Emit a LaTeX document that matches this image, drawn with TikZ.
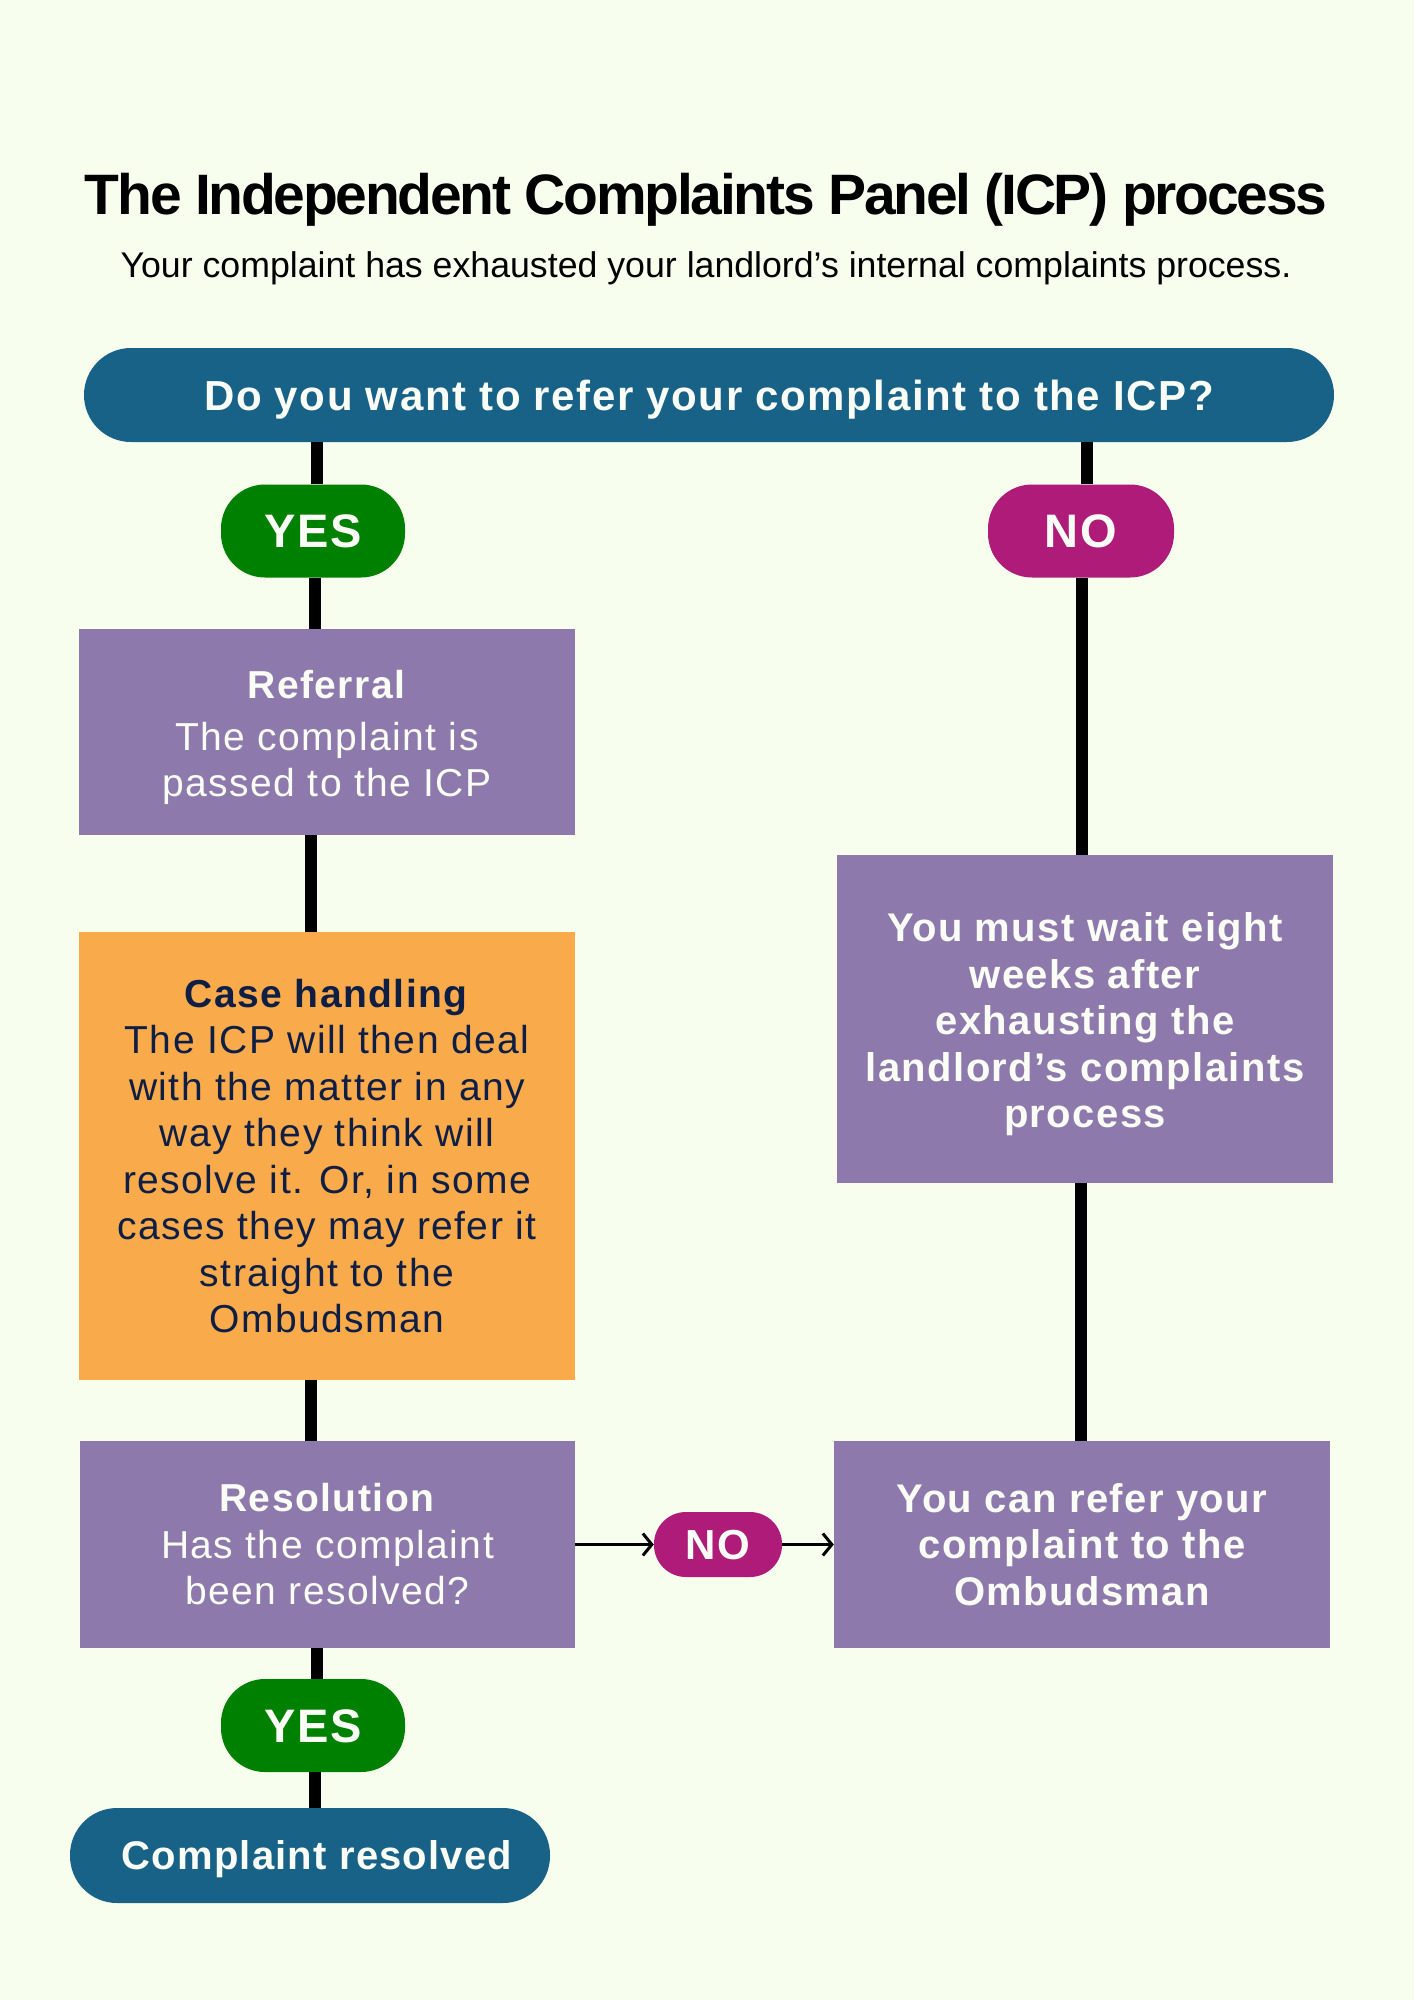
\documentclass[tikz,border=0pt]{standalone}
\usepackage{fontspec}
\setmainfont{Liberation Sans}
\usetikzlibrary{arrows.meta}
\definecolor{bgc}{HTML}{F7FEEE}
\definecolor{bluec}{HTML}{186288}
\definecolor{greenc}{HTML}{008000}
\definecolor{magc}{HTML}{AE1B78}
\definecolor{purc}{HTML}{8E79AC}
\definecolor{orc}{HTML}{F9AA4B}
\definecolor{navyc}{HTML}{0E1E45}
\definecolor{txtc}{HTML}{FAFDF5}
\tikzset{
  conn/.style={line width=12pt, black},
  arr/.style={line width=3pt, black, -{Straight Barb[length=9pt,width=22pt,line width=3pt]}},
  pill/.style={fill=#1, text=txtc, inner sep=0pt, align=center, text depth=0pt},
  boxn/.style={fill=#1, text=txtc, font=\fontsize{39}{46.5}\selectfont\addfontfeatures{LetterSpace=3.8}, inner sep=0pt, align=center},
  boxb/.style={fill=#1, text=txtc, font=\fontsize{40}{46.5}\selectfont\bfseries\addfontfeatures{LetterSpace=3.5}, inner sep=0pt, align=center},
}
\begin{document}
\begin{tikzpicture}[x=1pt,y=-1pt]
\useasboundingbox[fill=bgc] (0,0) rectangle (1414,2000);
% title
\node[anchor=base, font=\fontsize{57}{60}\selectfont\bfseries\addfontfeatures{LetterSpace=-4}] (title) at (706,214) {The Independent Complaints Panel (ICP) process};
\node[anchor=base, font=\fontsize{35.7}{40}\selectfont] (sub) at (706,277) {Your complaint has exhausted your landlord’s internal complaints process.};
% nodes
\node[pill=bluec, minimum width=1250pt, minimum height=94pt, rounded corners=47pt, text height=30pt, font=\fontsize{42}{47}\selectfont\bfseries\addfontfeatures{LetterSpace=3.7}] (top) at (709,395) {Do you want to refer your complaint to the ICP?};
\node[pill=greenc, minimum width=184pt, minimum height=93pt, rounded corners=44pt, text height=33.6pt, font=\fontsize{47}{50}\selectfont\bfseries\addfontfeatures{LetterSpace=4}] (yes1) at (313,531) {YES};
\node[pill=magc, minimum width=186pt, minimum height=93pt, rounded corners=44pt, text height=33.6pt, font=\fontsize{47}{50}\selectfont\bfseries\addfontfeatures{LetterSpace=4}] (no1) at (1081,531) {NO};
\node[boxn=purc, minimum width=496pt, minimum height=206pt] (ref) at (327,732) {\rule{0pt}{40pt}\textbf{Referral}\\[5pt]The complaint is\\passed to the ICP};
\node[boxn=orc, text=navyc, minimum width=496pt, minimum height=448pt] (case) at (327,1156) {\textbf{Case handling}\\The ICP will then deal\\with the matter in any\\way they think will\\resolve it. Or, in some\\cases they may refer it\\straight to the\\Ombudsman};
\node[boxb=purc, minimum width=496pt, minimum height=328pt] (wait) at (1085,1019) {\rule{0pt}{40pt}You must wait eight\\weeks after\\exhausting the\\landlord’s complaints\\process};
\node[boxn=purc, minimum width=495pt, minimum height=207pt] (res) at (327.5,1544.5) {\textbf{Resolution}\\Has the complaint\\been resolved?};
\node[boxb=purc, minimum width=496pt, minimum height=207pt] (refer) at (1082,1544.5) {You can refer your\\complaint to the\\Ombudsman};
\node[pill=magc, minimum width=128pt, minimum height=65pt, rounded corners=32pt, text height=30pt, font=\fontsize{42}{47}\selectfont\bfseries\addfontfeatures{LetterSpace=4}] (no2) at (718,1544.5) {NO};
\node[pill=greenc, minimum width=184pt, minimum height=93pt, rounded corners=44pt, text height=33.6pt, font=\fontsize{47}{50}\selectfont\bfseries\addfontfeatures{LetterSpace=4}] (yes2) at (313,1725.5) {YES};
\node[pill=bluec, minimum width=480pt, minimum height=95pt, rounded corners=47pt, text height=28.6pt, font=\fontsize{40}{47}\selectfont\bfseries\addfontfeatures{LetterSpace=3}] (done) at (310,1855.5) {\hspace*{14pt}Complaint resolved};
% connectors
\draw[conn] (top.south -| 317,0) -- (yes1.north -| 317,0);
\draw[conn] (top.south -| 1087,0) -- (no1.north -| 1087,0);
\draw[conn] (yes1.south -| 315,0) -- (ref.north -| 315,0);
\draw[conn] (no1.south -| 1082,0) -- (wait.north -| 1082,0);
\draw[conn] (ref.south -| 311,0) -- (case.north -| 311,0);
\draw[conn] (case.south -| 311,0) -- (res.north -| 311,0);
\draw[conn] (wait.south -| 1081,0) -- (refer.north -| 1081,0);
\draw[conn] (res.south -| 317,0) -- (yes2.north -| 317,0);
\draw[conn] (yes2.south -| 315,0) -- (done.north -| 315,0);
\draw[arr] (res.east) -- (no2.west);
\draw[arr] (no2.east) -- (refer.west);
\end{tikzpicture}
\end{document}
